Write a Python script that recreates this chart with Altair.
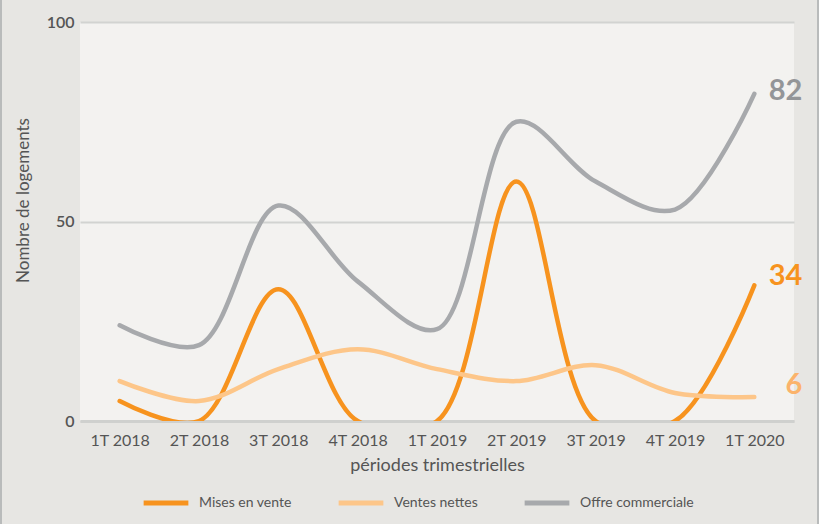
import altair as alt
import pandas as pd

periods = ["1T 2018", "2T 2018", "3T 2018", "4T 2018", "1T 2019",
           "2T 2019", "3T 2019", "4T 2019", "1T 2020"]
series_names = ["Mises en vente", "Ventes nettes", "Offre commerciale"]
mises = [5, 0, 33, 0, 0, 60, 0, 0, 34]
ventes = [10, 5, 13, 18, 13, 10, 14, 7, 6]
offre = [24, 19, 54, 35, 23, 75, 60, 53, 82]
colors = ["#f7931e", "#fdc689", "#a7a9ac"]
label_colors = ["#f7931e", "#fbb36b", "#939598"]

rows = []
for name, vals in zip(series_names, [mises, ventes, offre]):
    for p, v in zip(periods, vals):
        rows.append({"periode": p, "serie": name, "valeur": v})
df = pd.DataFrame(rows)

FONT = "Lato"

x = alt.X("periode:O", sort=periods, title="périodes trimestrielles",
          axis=alt.Axis(labelAngle=0, labelFontSize=16, labelColor="#555555",
                        labelFont=FONT, titleFont=FONT, titleFontSize=18,
                        titleFontWeight="normal", titleColor="#555555",
                        labelPadding=11, titlePadding=8, ticks=False,
                        domainColor="#cfd0ce", domainWidth=3, grid=False))
y = alt.Y("valeur:Q", title="Nombre de logements",
          scale=alt.Scale(domain=[0, 100], nice=False),
          axis=alt.Axis(values=[0, 50, 100], labelFontSize=16, labelColor="#555555",
                        labelFont="Lato", labelFontWeight=600, labelPadding=6,
                        titleFont=FONT, titleFontSize=17, titleFontWeight="normal",
                        titleColor="#555555", titleX=-48, titleY=178,
                        ticks=False, domain=False, gridColor="#d2d3d1", gridWidth=2))

color = alt.Color("serie:N", sort=series_names,
                  scale=alt.Scale(domain=series_names, range=colors),
                  legend=alt.Legend(title=None, orient="none", direction="horizontal",
                                    legendX=61, legendY=456,
                                    symbolType="stroke", symbolStrokeWidth=5,
                                    symbolSize=2000, labelFont=FONT, labelFontSize=14,
                                    labelColor="#555555", columnPadding=36,
                                    labelOffset=8))

lines = alt.Chart(df).mark_line(interpolate="catmull-rom", strokeWidth=4.5,
                                strokeCap="round", clip=True).encode(x=x, y=y, color=color)

last = df[df["periode"] == periods[-1]]
dys = [-9, -12, -3]
texts = []
for name, lc, dy in zip(series_names, label_colors, dys):
    t = alt.Chart(last).transform_filter(alt.datum.serie == name).mark_text(
        align="right", baseline="middle", dx=48, dy=dy, fontSize=29,
        fontWeight="bold", font="Lato", color=lc
    ).encode(x=alt.X("periode:O", sort=periods), y=alt.Y("valeur:Q"),
             text=alt.Text("valeur:Q"))
    texts.append(t)

borders = []
for xv in [-79, 738]:
    borders.append(alt.Chart(last).mark_rule(color="#b9bbbb", strokeWidth=2).encode(
        x=alt.value(xv), y=alt.value(-22), y2=alt.value(502)))

chart = alt.layer(lines, *texts, *borders).properties(
    width=714, height=399,
    autosize=alt.AutoSizeParams(type="none"),
    padding={"left": 80, "top": 22, "right": 25, "bottom": 103},
    background="#e7e6e3",
).configure_view(stroke=None, fill="#f3f2f0")

chart.save("out.html", embed_options={"renderer": "svg", "actions": False})
